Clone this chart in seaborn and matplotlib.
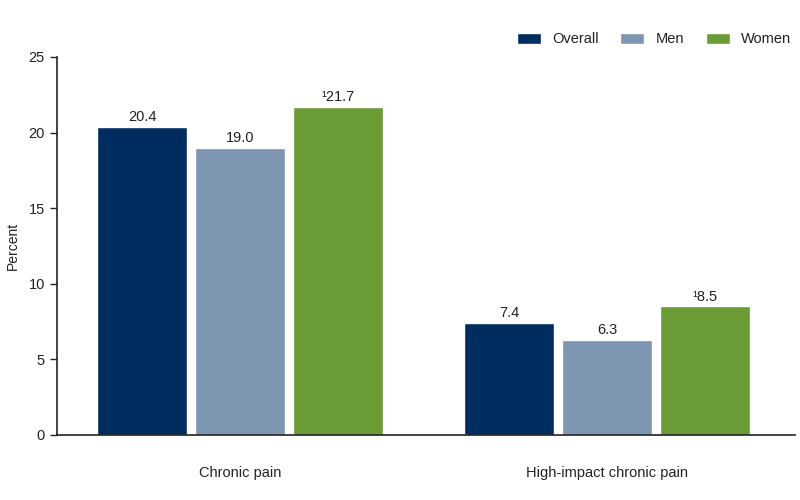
import pandas as pd
import seaborn as sns
import matplotlib.pyplot as plt

# data
categories = ["Chronic pain", "High-impact chronic pain"]
groups = ["Overall", "Men", "Women"]
overall = [20.4, 7.4]
men = [19.0, 6.3]
women = [21.7, 8.5]
labels = {
    "Overall": ["20.4", "7.4"],
    "Men": ["19.0", "6.3"],
    "Women": ["\u00b921.7", "\u00b98.5"],
}
colors = ["#002d5f", "#7f96b3", "#6a9b34"]


def main():
    sns.set_theme(style="white")
    plt.rcParams["font.family"] = ["Liberation Sans", "DejaVu Sans"]

    rows = []
    for g, vals in zip(groups, [overall, men, women]):
        for c, v in zip(categories, vals):
            rows.append({"category": c, "group": g, "value": v})
    df = pd.DataFrame(rows)

    fig = plt.figure(figsize=(8, 5), dpi=100)
    ax = fig.add_axes([0.071, 0.13, 0.923, 0.756])
    sns.barplot(data=df, x="category", y="value", hue="group",
                hue_order=groups, palette=colors, width=0.8, gap=0.08,
                saturation=1, ax=ax, legend=True)

    # value labels above the bars
    for container, g in zip(ax.containers, groups):
        ax.bar_label(container, labels=labels[g], padding=2,
                     fontsize=10.5, color="#222222")

    ax.set_ylim(0, 25)
    ax.set_yticks([0, 5, 10, 15, 20, 25])
    ax.set_xlim(-0.499, 1.512)
    ax.set_xlabel("")
    ax.set_ylabel("Percent", fontsize=10, color="#222222", labelpad=6)
    ax.tick_params(axis="y", length=5, width=1, color="#222222",
                   labelsize=10.5, labelcolor="#222222", left=True)
    ax.tick_params(axis="x", length=0, labelsize=10.5, labelcolor="#222222", pad=22)
    for side in ["top", "right"]:
        ax.spines[side].set_visible(False)
    for side in ["left", "bottom"]:
        ax.spines[side].set_color("#222222")
        ax.spines[side].set_linewidth(1.2)

    leg = ax.legend(loc="upper right", bbox_to_anchor=(1.012, 1.1), ncol=3,
                    frameon=False, fontsize=10.5, handlelength=1.65,
                    handleheight=0.8, columnspacing=1.5, handletextpad=0.75)
    for t in leg.get_texts():
        t.set_color("#222222")

    fig.savefig("out.png", dpi=100)


if __name__ == "__main__":
    main()
